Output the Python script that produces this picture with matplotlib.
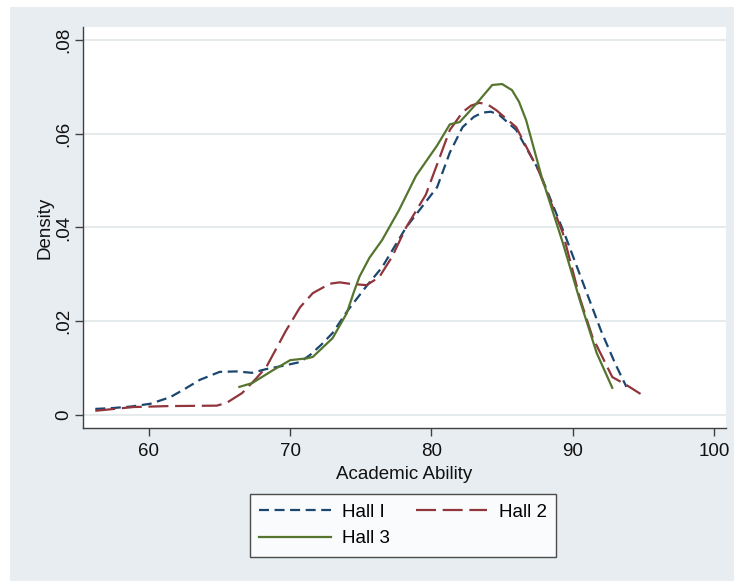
import matplotlib
matplotlib.use("Agg")
import matplotlib.pyplot as plt
from matplotlib.patches import Rectangle

plt.rcParams['font.family'] = ['Liberation Sans', 'DejaVu Sans']

# Data
hall1_x = [56.2, 57.5, 58.7, 60.1, 61.5, 62.5, 63.6, 65.0, 66.2, 67.3, 68.3, 69.5, 70.7, 71.4,
           72.2, 73.0, 74.0, 75.4, 76.5, 78.2, 80.4, 81.3, 82.2, 83.0, 83.6, 84.2, 84.8, 86.0,
           87.6, 89.5, 90.0, 91.0, 92.0, 93.0, 93.8]
hall1_y = [0.0013, 0.0015, 0.0018, 0.0024, 0.0038, 0.0055, 0.0075, 0.0092, 0.0093, 0.0090, 0.0098,
           0.0105, 0.0113, 0.0128, 0.0150, 0.0175, 0.0220, 0.0275, 0.0315, 0.0400, 0.0486, 0.0560,
           0.0614, 0.0636, 0.0645, 0.0647, 0.0640, 0.0608, 0.0522, 0.0380, 0.0340, 0.0260, 0.0180,
           0.0110, 0.0060]

hall2_x = [56.2, 58.9, 61.3, 64.8, 65.5, 66.6, 67.5, 68.3, 69.7, 70.7, 71.6, 72.8, 73.5, 74.2,
           75.4, 76.3, 77.2, 78.2, 79.6, 81.3, 82.2, 82.8, 83.4, 84.0, 84.6, 86.0, 87.6, 89.3,
           90.5, 91.4, 92.8, 93.8, 94.8]
hall2_y = [0.0009, 0.0017, 0.0019, 0.0020, 0.0026, 0.0047, 0.0075, 0.0102, 0.0180, 0.0230, 0.0260,
           0.0280, 0.0283, 0.0280, 0.0277, 0.0294, 0.0337, 0.0400, 0.0470, 0.0608, 0.0646, 0.0660,
           0.0666, 0.0662, 0.0650, 0.0614, 0.0520, 0.0388, 0.0250, 0.0166, 0.0081, 0.0064, 0.0045]

hall3_x = [66.4, 67.3, 68.8, 70.0, 71.2, 71.6, 73.0, 74.0, 74.5, 74.9, 75.6, 76.5, 77.7, 78.9,
           80.4, 81.3, 82.0, 82.7, 83.4, 84.3, 85.0, 85.7, 86.2, 86.7, 87.8, 89.3, 90.5, 91.7, 92.8]
hall3_y = [0.0060, 0.0068, 0.0096, 0.0117, 0.0121, 0.0124, 0.0164, 0.0217, 0.0262, 0.0295, 0.0335,
           0.0373, 0.0437, 0.0510, 0.0575, 0.0620, 0.0625, 0.0648, 0.0672, 0.0704, 0.0706, 0.0693,
           0.0668, 0.0629, 0.0508, 0.0367, 0.0245, 0.0132, 0.0058]

series_labels = ["Hall I", "Hall 2", "Hall 3"]
x_ticks = [60, 70, 80, 90, 100]
y_ticks = [0, 0.02, 0.04, 0.06, 0.08]
y_ticklabels = ["0", ".02", ".04", ".06", ".08"]

W, H = 734, 581
fig = plt.figure(figsize=(W / 100, H / 100), dpi=100)
fig.patch.set_facecolor('white')
bg = '#e8edf1'
fig.patches.append(Rectangle((10 / W, 0), 1 - 10 / W, 1 - 7 / H, transform=fig.transFigure,
                             facecolor=bg, edgecolor='none', zorder=-10))

ax = fig.add_axes([83 / W, 1 - 428 / H, (726 - 83) / W, (428 - 27) / H])
ax.set_facecolor('white')

navy = '#1a476f'
maroon = '#90353b'
green = '#55752f'

l1, = ax.plot(hall1_x, hall1_y, color=navy, lw=1.6, dashes=(4.5, 2.5), label=series_labels[0])
l2, = ax.plot(hall2_x, hall2_y, color=maroon, lw=1.6, dashes=(9, 3), label=series_labels[1])
l3, = ax.plot(hall3_x, hall3_y, color=green, lw=1.6, label=series_labels[2])

ax.set_xlim(55.33, 100.85)
ax.set_ylim(-0.00277, 0.08277)
ax.set_xticks(x_ticks)
ax.set_yticks(y_ticks)
ax.set_yticklabels(y_ticklabels, rotation=90, va='center')
ax.yaxis.grid(True, color='#e3e8ea', lw=1.3)
ax.set_axisbelow(True)

for s in ['top', 'right']:
    ax.spines[s].set_visible(False)
for s in ['left', 'bottom']:
    ax.spines[s].set_color('#404040')
    ax.spines[s].set_linewidth(1.0)
ax.tick_params(axis='both', direction='out', length=6, width=1, color='#404040',
               labelsize=13.5, labelcolor='#111111')
ax.tick_params(axis='x', pad=5)
ax.tick_params(axis='y', pad=2)

ax.set_xlabel("Academic Ability", fontsize=13.5, color='#111111', labelpad=4)
ax.set_ylabel("Density", fontsize=13.5, color='#111111', labelpad=1)

leg = fig.legend([l1, l3, l2], [series_labels[0], series_labels[2], series_labels[1]],
                 ncol=2, loc='center', bbox_to_anchor=(403 / W, 1 - 525.5 / H),
                 fontsize=13.5, frameon=True, fancybox=False, handlelength=3.8,
                 columnspacing=1.4, handletextpad=0.6, borderpad=0.5, labelspacing=0.5,
                 borderaxespad=0)
leg.get_frame().set_edgecolor('#222222')
leg.get_frame().set_linewidth(1.0)
leg.get_frame().set_facecolor('white')

fig.savefig("out.png", dpi=100, facecolor=fig.get_facecolor())
